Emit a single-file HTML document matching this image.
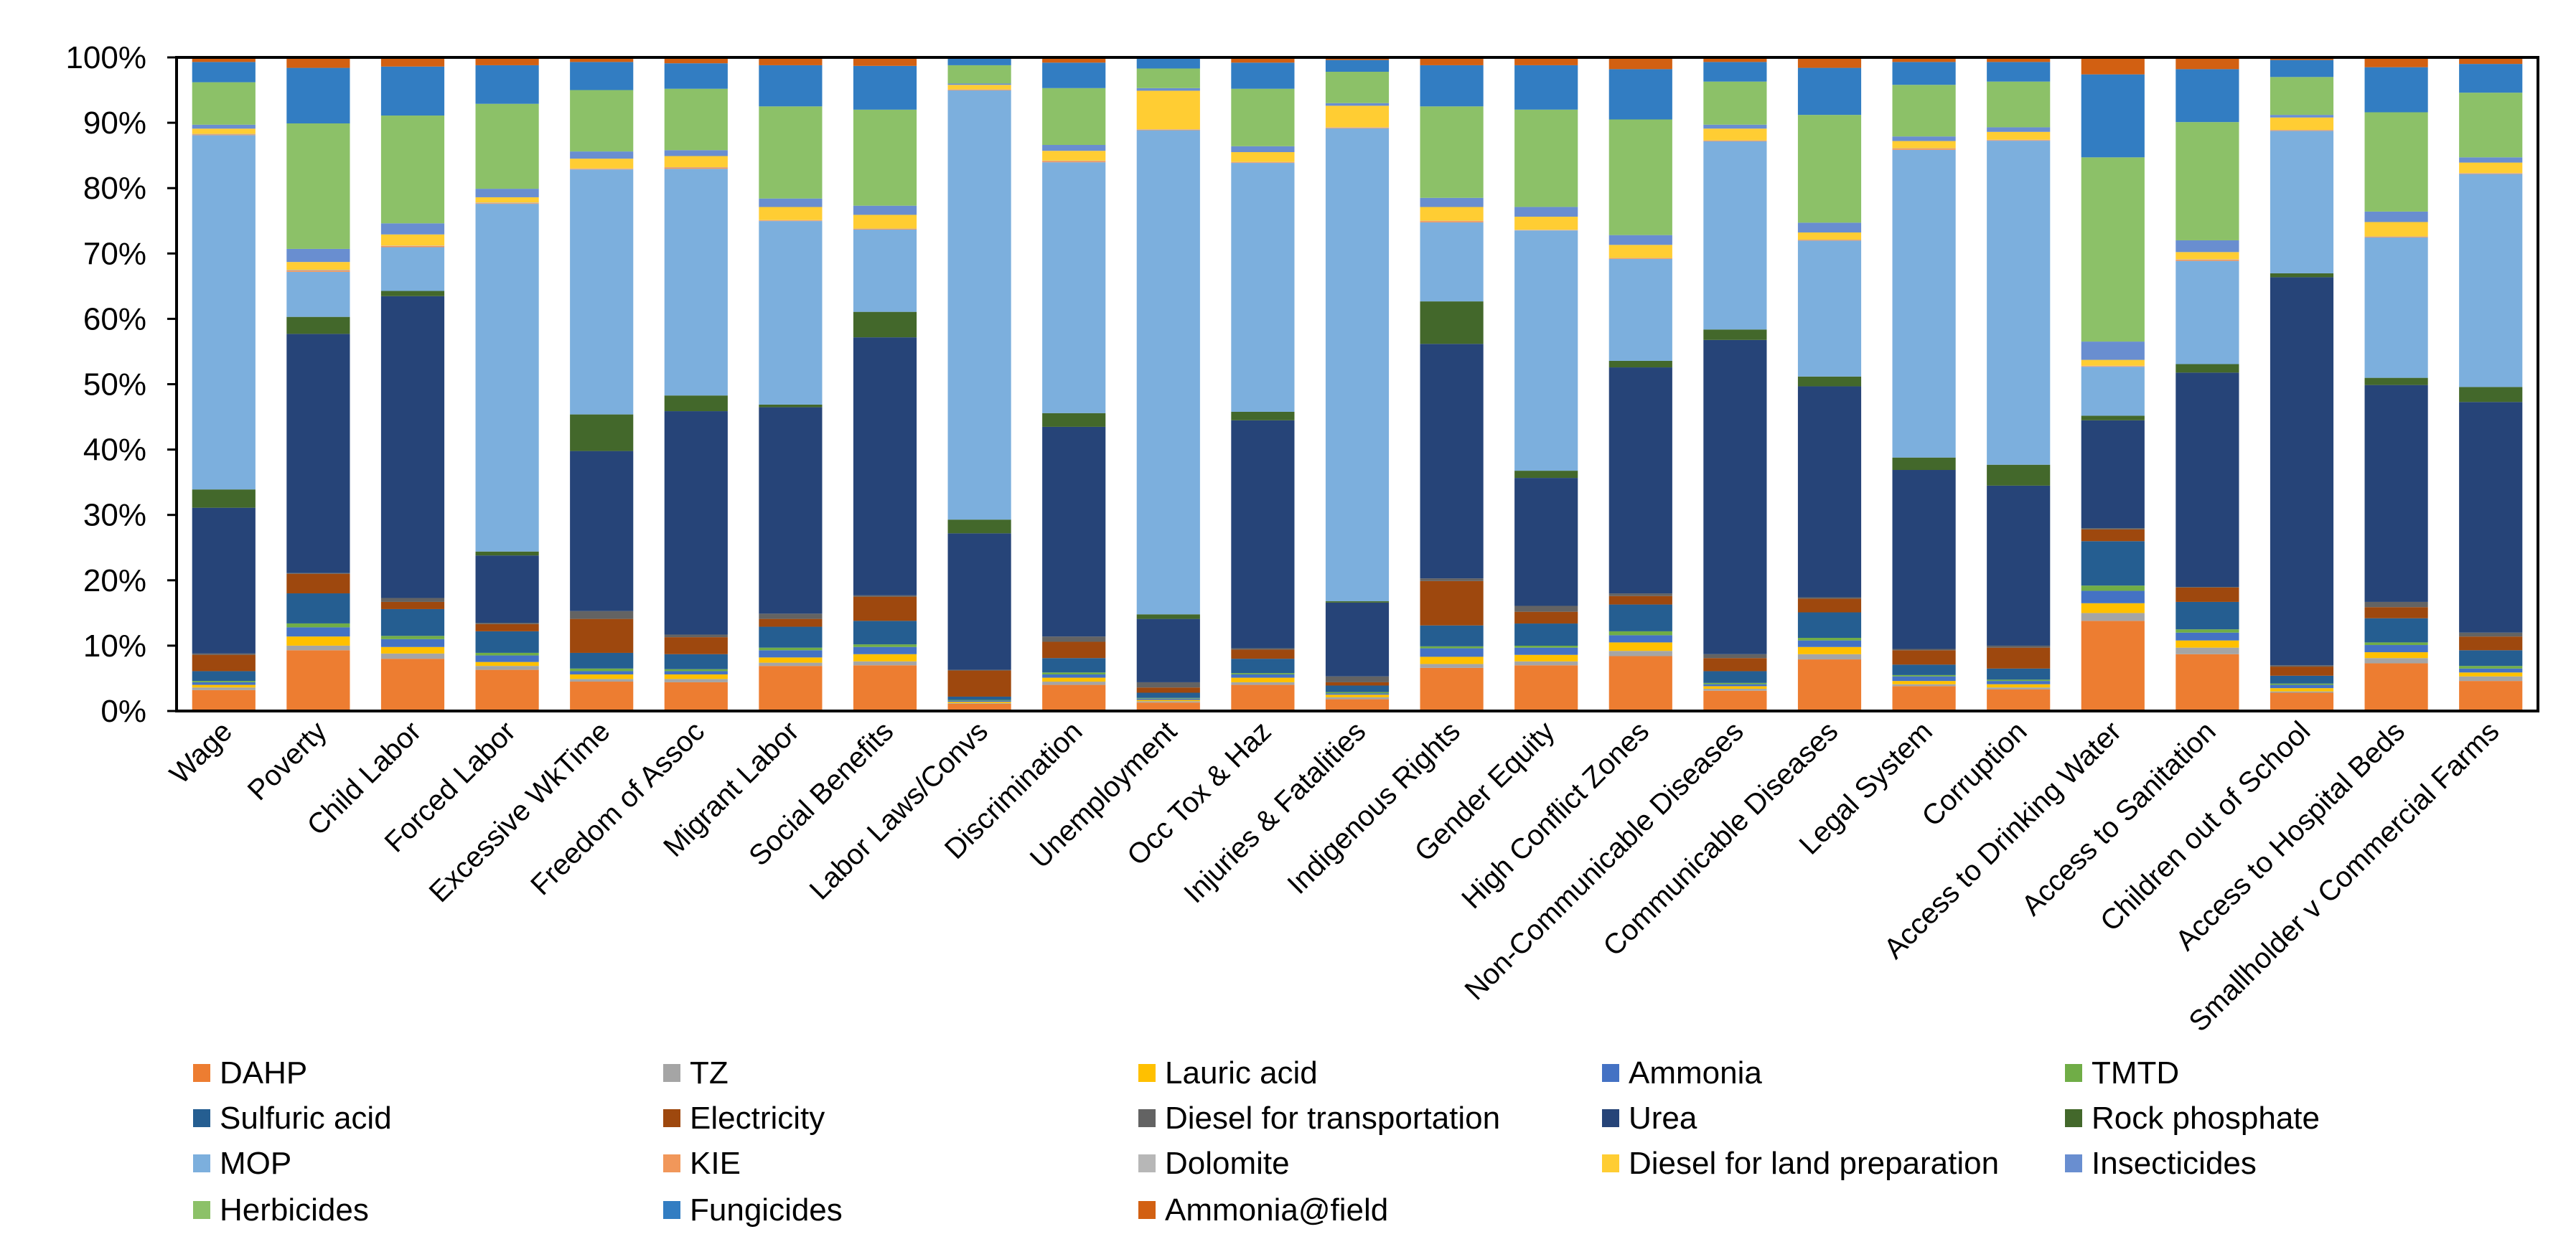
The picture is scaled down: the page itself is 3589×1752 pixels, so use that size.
<!DOCTYPE html>
<html><head><meta charset="utf-8"><style>
html,body{margin:0;padding:0;background:#fff;}
svg text{font-family:"Liberation Sans",Arial,sans-serif;fill:#000;}
</style></head><body>
<svg id="chart" width="3589" height="1747" viewBox="0 0 3589 1747" xmlns="http://www.w3.org/2000/svg">
<g id="bars"></g>
<g id="axes"></g>
<g id="legend"></g>
</svg>
<script>
const categories = ["Wage","Poverty","Child Labor","Forced Labor","Excessive WkTime","Freedom of Assoc","Migrant Labor","Social Benefits","Labor Laws/Convs","Discrimination","Unemployment","Occ Tox & Haz","Injuries & Fatalities","Indigenous Rights","Gender Equity","High Conflict Zones","Non-Communicable Diseases","Communicable Diseases","Legal System","Corruption","Access to Drinking Water","Access to Sanitation","Children out of School","Access to Hospital Beds","Smallholder v Commercial Farms"];
const seriesNames = ["DAHP","TZ","Lauric acid","Ammonia","TMTD","Sulfuric acid","Electricity","Diesel for transportation","Urea","Rock phosphate","MOP","KIE","Dolomite","Diesel for land preparation","Insecticides","Herbicides","Fungicides","Ammonia@field"];
const seriesColors = ["#ED7D31","#A5A5A5","#FFC000","#4472C4","#70AD47","#255E91","#9E480E","#636363","#264478","#43682B","#7CAFDD","#F1975A","#B7B7B7","#FFCD33","#698ED0","#8CC168","#327DC2","#D26012"];
const dahp = [3.2,9.3,8.0,6.3,4.5,4.4,6.9,7.0,1.1,4.0,1.3,4.0,1.8,6.6,7.0,8.4,3.1,7.9,3.8,3.3,13.8,8.7,2.8,7.3,4.6];
const tz = [.4,.7,.8,.6,.4,.5,.5,.6,.1,.5,.2,.4,.3,.6,.6,.8,.3,.8,.3,.3,1.2,1.0,.2,.8,.7];
const lauric = [.4,1.4,1.0,.6,.7,.7,.8,1.1,.2,.6,.2,.7,.4,1.1,1.0,1.3,.4,1.1,.5,.5,1.5,1.1,.5,.9,.6];
const ammonia = [.4,1.4,1.2,1.0,.5,.5,1.1,1.1,.2,.5,.2,.5,.2,1.3,1.1,1.1,.3,1.0,.7,.5,1.9,1.2,.5,1.1,.6];
const tmtd = [.2,.6,.5,.4,.4,.3,.4,.4,.1,.3,.1,.2,.2,.3,.3,.6,.2,.4,.2,.2,.8,.5,.2,.4,.4];
const sulfuric = [1.5,4.6,4.1,3.3,2.4,2.3,3.2,3.6,.5,2.2,.8,2.2,1.0,3.2,3.4,4.1,1.8,3.9,1.6,1.7,6.8,4.2,1.2,3.7,2.4];
const electricity = [2.5,3.0,1.1,1.1,5.2,2.6,1.2,3.7,4.0,2.5,.8,1.4,.5,6.8,1.8,1.3,2.0,2.1,2.2,3.2,1.8,2.2,1.4,1.7,2.1];
const dieselTransport = [.2,.1,.6,.2,1.2,.4,.8,.2,.1,.8,.8,.2,.9,.4,.9,.4,.6,.2,.2,.3,.2,.1,.2,.8,.6];
const urea = [22.3,36.6,46.2,10.3,24.5,34.2,31.6,39.5,20.9,32.1,9.7,34.9,11.3,35.9,19.6,34.6,48.1,32.3,27.4,24.5,16.5,32.8,59.4,33.2,35.3];
const rockPhosphate = [2.8,2.6,.8,.6,5.6,2.4,.4,3.9,2.1,2.1,.7,1.3,.2,6.5,1.1,1.0,1.6,1.5,1.9,3.2,.7,1.3,.6,1.1,2.3];
const mop = [54.2,6.9,6.7,53.2,37.5,34.7,28.1,12.6,65.7,38.4,74.1,38.1,72.4,12.1,36.8,15.6,28.8,20.8,47.1,49.6,7.5,15.8,21.8,21.5,32.6];
const kie = [.1,.2,.2,.1,.1,.2,.1,.1,.1,.2,.1,.1,.1,.2,.05,.1,.1,.1,.2,.1,.1,.2,.1,.1,.1];
const dolomite = [.1,.1,.05,.1,.05,.05,.05,.05,.05,.05,.05,.05,.05,.05,.05,.05,.05,.05,.05,.05,.05,.05,.05,.05,.05];
const dieselLand = [.8,1.2,1.7,.8,1.5,1.7,2.0,2.1,.7,1.5,5.9,1.5,3.3,2.1,2.0,2.0,1.8,1.1,1.1,1.2,.9,1.1,1.9,2.2,1.6];
const insecticides = [.6,2.0,1.7,1.3,1.1,.9,1.3,1.4,.2,.9,.4,.9,.4,1.4,1.5,1.5,.6,1.5,.7,.7,2.8,1.8,.4,1.6,.8];
const herbicides = [6.5,19.2,16.5,13.0,9.4,9.4,14.1,14.7,2.8,8.7,3.0,8.8,4.8,14.0,14.9,17.7,6.6,16.5,7.9,7.0,28.2,18.1,5.8,15.2,9.9];
const fungicides = [3.1,8.5,7.5,5.9,4.3,3.9,6.3,6.7,1.0,3.9,1.7,4.0,1.8,6.3,6.8,7.7,3.0,7.2,3.5,3.0,12.7,8.1,2.6,6.9,4.4];
const ammoniaField = [.7,1.6,1.4,1.2,.7,.9,1.2,1.3,.2,.8,0,.8,.4,1.2,1.2,1.8,.7,1.6,.7,.7,2.6,1.8,.4,1.5,1.0];
const yTicks = ["0%","10%","20%","30%","40%","50%","60%","70%","80%","90%","100%"];

const seriesValues = [dahp,tz,lauric,ammonia,tmtd,sulfuric,electricity,dieselTransport,urea,rockPhosphate,mop,kie,dolomite,dieselLand,insecticides,herbicides,fungicides,ammoniaField];
const NS = "http://www.w3.org/2000/svg";
const PL = 246, PR = 3536, PT = 80, PB = 991;
const band = (PR - PL) / categories.length;
const barW = band * 0.67;
function xCenter(i){ return PL + band * (i + 0.5); }
function yScale(p){ return PB - (PB - PT) * p / 100; }
function mk(tag, attrs, parent){ const e = document.createElementNS(NS, tag); for (const k in attrs) e.setAttribute(k, attrs[k]); parent.appendChild(e); return e; }

const gBars = document.getElementById('bars');
categories.forEach((c, i) => {
  let total = 0; seriesValues.forEach(s => total += s[i]);
  let cum = 0;
  const g = mk('g', {}, gBars);
  
  
  seriesValues.forEach((s, k) => {
    const p0 = cum / total * 100; cum += s[i]; const p1 = cum / total * 100;
    const r = mk('rect', {x: xCenter(i) - barW/2, y: yScale(p1), width: barW, height: Math.max(0, yScale(p0) - yScale(p1)), fill: seriesColors[k]}, g);
    
    
  });
});

const gAx = document.getElementById('axes');
const frame = mk('rect', {x: PL, y: PT, width: PR - PL, height: PB - PT, fill: 'none', stroke: '#000', 'stroke-width': 4}, gAx);


yTicks.forEach((t, i) => {
  const y = yScale(i * 10);
  const tk = mk('line', {x1: PL - 13, x2: PL, y1: y, y2: y, stroke: '#000', 'stroke-width': 3}, gAx);
  
  
  const tx = mk('text', {x: 204, y: y + 15, 'text-anchor': 'end', 'font-size': 44}, gAx);
  tx.textContent = t;
  
  
});
categories.forEach((c, i) => {
  const x = xCenter(i) + 14, y = 1022;
  const tx = mk('text', {x: x, y: y, 'text-anchor': 'end', 'font-size': 40, transform: 'rotate(-45 ' + x + ' ' + y + ')'}, gAx);
  tx.textContent = c;
  
  
});

const gLeg = document.getElementById('legend');
const colX = [269, 924, 1586, 2232, 2877];
const rowY = [1495, 1558, 1621, 1686];
seriesNames.forEach((n, k) => {
  const cx = colX[k % 5], cy = rowY[Math.floor(k / 5)];
  const g = mk('g', {}, gLeg);
  
  
  const sw = mk('rect', {x: cx, y: cy - 12, width: 24, height: 25, fill: seriesColors[k]}, g);
  
  
  const tx = mk('text', {x: cx + 37, y: cy + 15, 'font-size': 44}, g);
  tx.textContent = n;
  
  
});
</script>
</body></html>
